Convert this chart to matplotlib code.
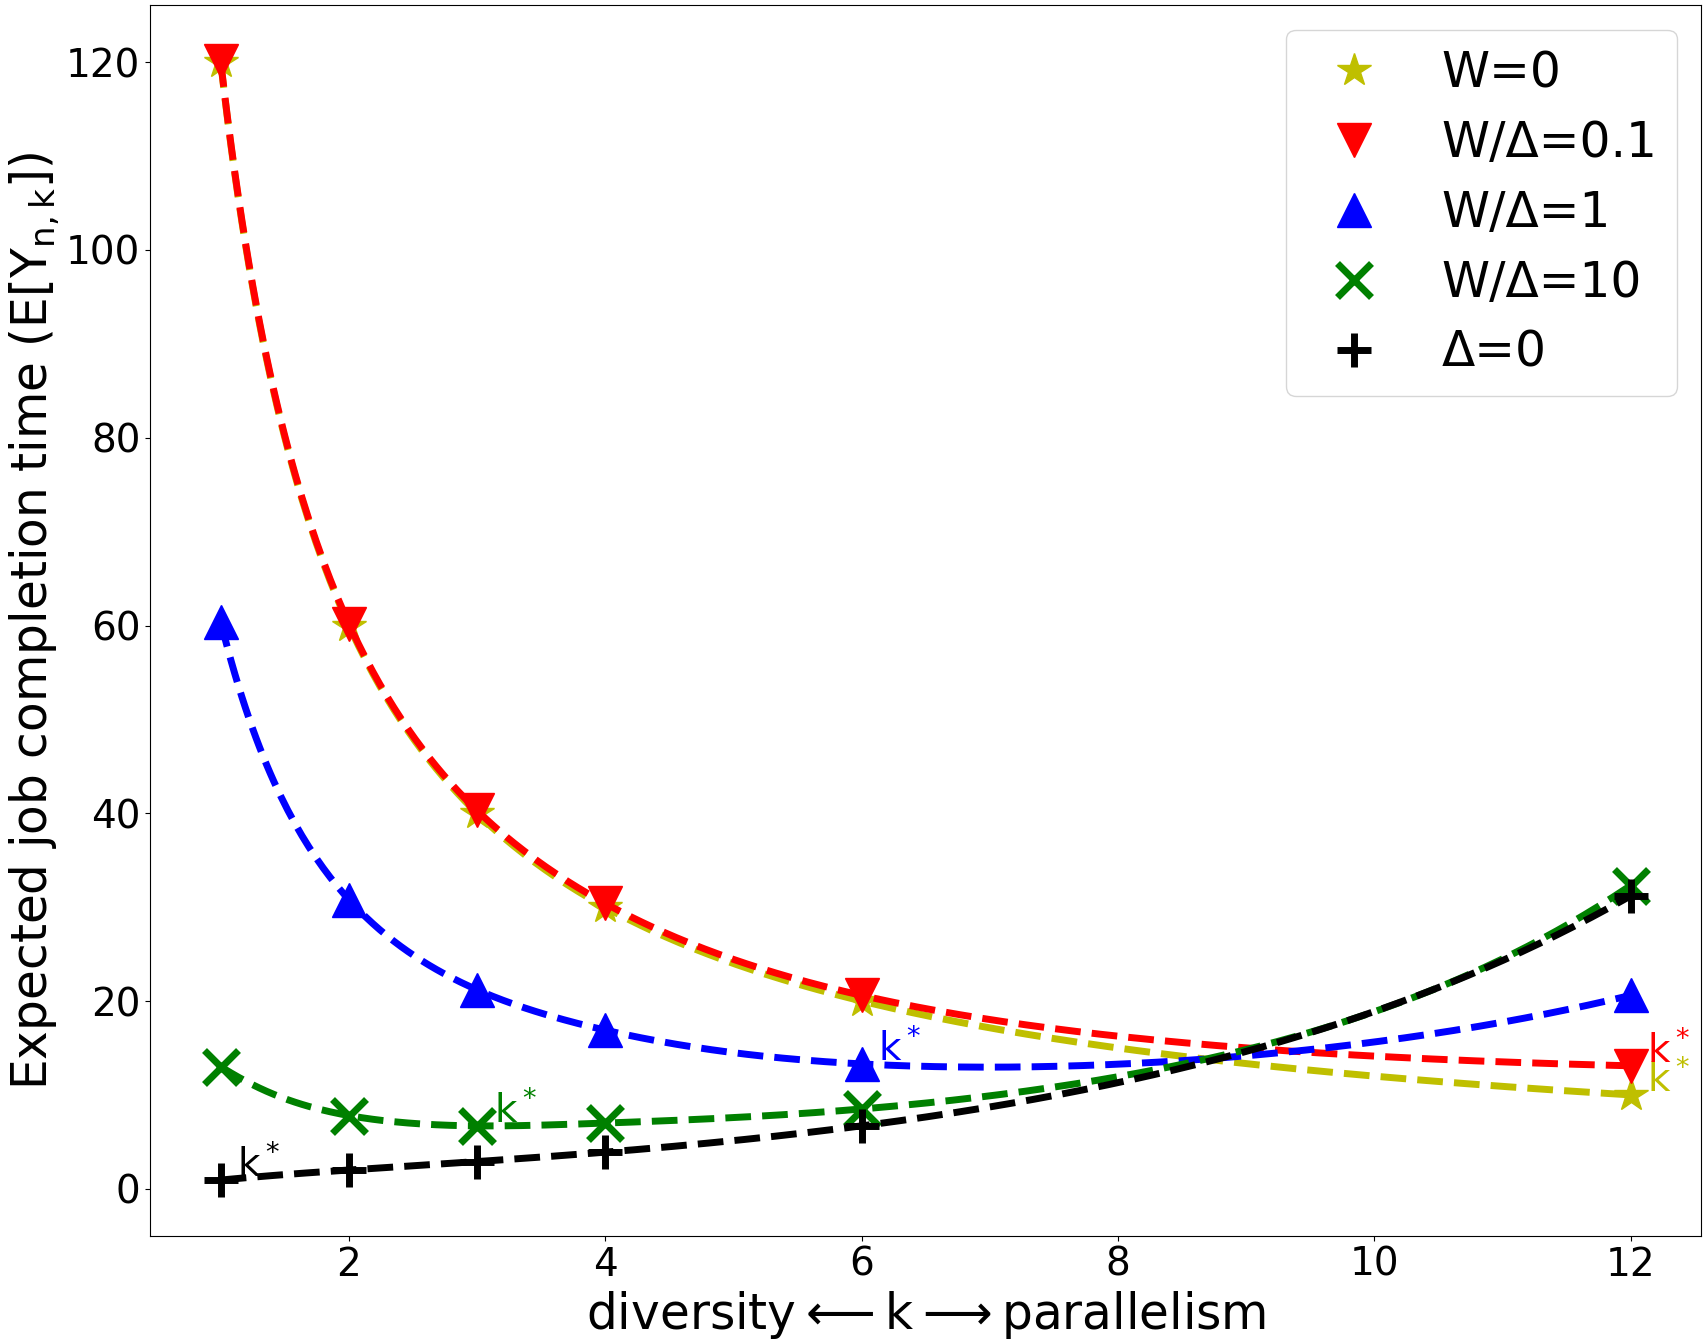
import numpy as np
import matplotlib
matplotlib.use("Agg")
import matplotlib.pyplot as plt

plt.rcParams['mathtext.default'] = 'regular'

k_vals = [1, 2, 3, 4, 6, 12]
w0 = [120, 60, 40, 30, 20, 10]
w01 = [120.1, 60.2, 40.3, 30.4, 20.6, 13.1]
w1 = [60.4, 30.8, 21.2, 16.9, 13.3, 20.6]
w10 = [13.0, 7.8, 6.7, 7.0, 8.5, 32.3]
d0 = [0.93, 2.0, 2.9, 3.9, 6.7, 31.2]

labels = ['W=0', 'W/Δ=0.1', 'W/Δ=1', 'W/Δ=10', 'Δ=0']
colors = ['y', 'r', 'b', 'g', 'k']
markers = ['*', 'v', '^', 'x', '+']
kstar_x = [12, 12, 6, 3, 1]
kstar_y = [10, 13.1, 13.3, 6.7, 0.93]


def not_a_knot_spline(x, y, xs):
    x = np.asarray(x, float)
    y = np.asarray(y, float)
    n = len(x)
    h = np.diff(x)
    A = np.zeros((n, n))
    b = np.zeros(n)
    A[0, 0] = h[1]
    A[0, 1] = -(h[0] + h[1])
    A[0, 2] = h[0]
    for i in range(1, n - 1):
        A[i, i - 1] = h[i - 1]
        A[i, i] = 2 * (h[i - 1] + h[i])
        A[i, i + 1] = h[i]
        b[i] = 6 * ((y[i + 1] - y[i]) / h[i] - (y[i] - y[i - 1]) / h[i - 1])
    A[n - 1, n - 3] = h[n - 2]
    A[n - 1, n - 2] = -(h[n - 3] + h[n - 2])
    A[n - 1, n - 1] = h[n - 3]
    M = np.linalg.solve(A, b)
    idx = np.clip(np.searchsorted(x, xs) - 1, 0, n - 2)
    x0, x1 = x[idx], x[idx + 1]
    hh = x1 - x0
    return (M[idx] * (x1 - xs) ** 3 / (6 * hh) + M[idx + 1] * (xs - x0) ** 3 / (6 * hh)
            + (y[idx] / hh - M[idx] * hh / 6) * (x1 - xs)
            + (y[idx + 1] / hh - M[idx + 1] * hh / 6) * (xs - x0))


def smooth_curve(x, y, xs):
    # cubic spline through the data points in log-log space
    return np.exp(not_a_knot_spline(np.log(x), np.log(y), np.log(xs)))


fig = plt.figure(figsize=(17.07, 13.42), dpi=100)
ax = fig.add_axes([0.088, 0.079, 0.9085, 0.917])

xs = np.linspace(1, 12, 400)
series = [w0, w01, w1, w10, d0]
for ys, lab, c, m in zip(series, labels, colors, markers):
    mew = 5 if m in ('x', '+') else 1
    ax.plot(k_vals, ys, linestyle='none', marker=m, color=c, markersize=25,
            markeredgewidth=mew, label=lab)
    ax.plot(xs, smooth_curve(k_vals, ys, xs), '--', color=c, linewidth=5)

for kx, ky, c in zip(kstar_x, kstar_y, colors):
    ax.text(kx + 0.13, ky + 0.45, 'k$^*$', color=c, fontsize=28)

ax.set_xlabel(r'diversity$\longleftarrow$k$\longrightarrow$parallelism', fontsize=35)
ax.set_ylabel('Expected job completion time (E[Y$_{n,k}$])', fontsize=35)
ax.tick_params(labelsize=28)
ax.set_yticks([0, 20, 40, 60, 80, 100, 120])
ax.legend(loc='upper right', fontsize=35, numpoints=1, labelspacing=0.45)

fig.savefig('out.png', dpi=100)
